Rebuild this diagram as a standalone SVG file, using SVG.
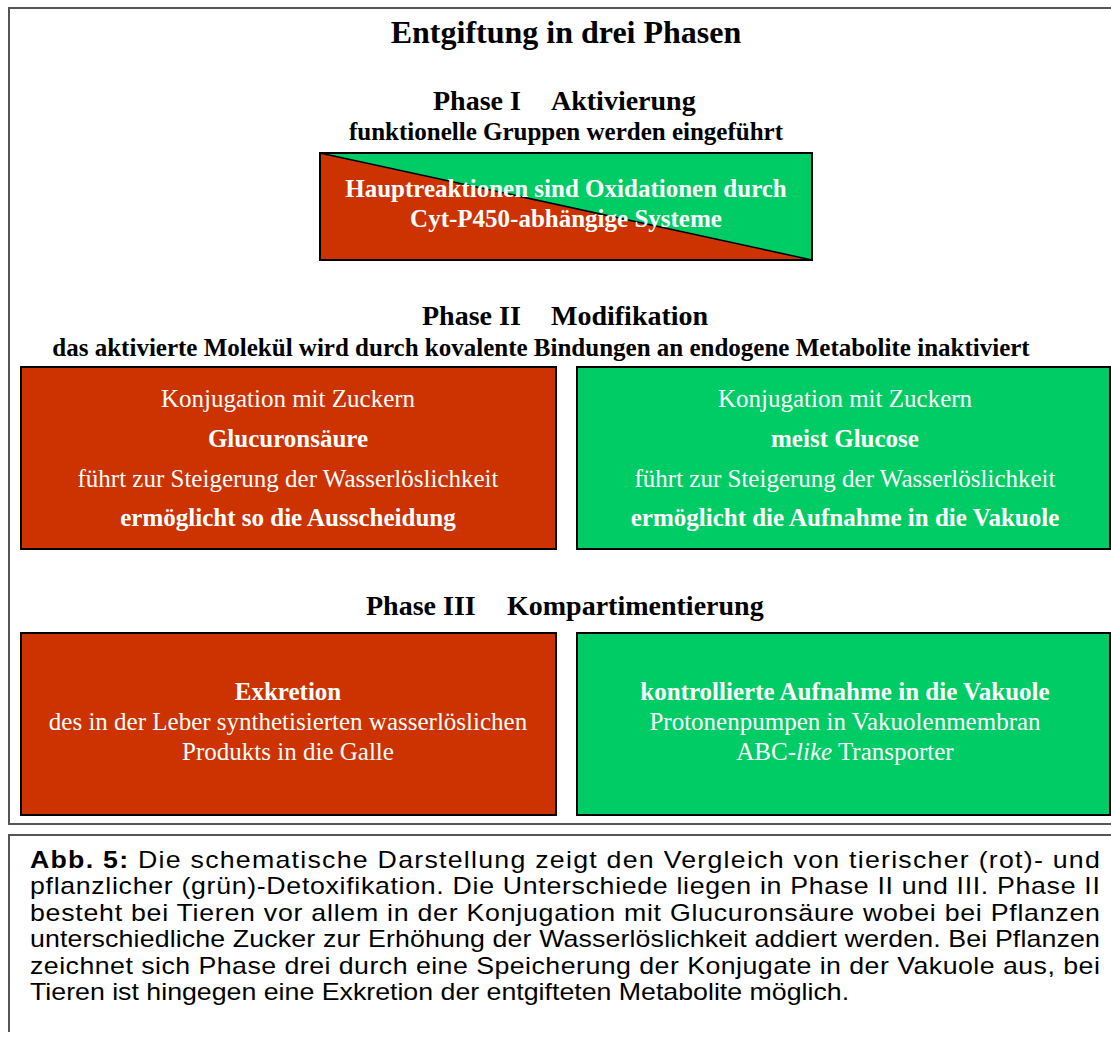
<svg xmlns="http://www.w3.org/2000/svg" width="1111" height="1042" viewBox="0 0 1111 1042">
<style>
.frame{fill:none;stroke:#555;stroke-width:2}
.box{stroke:#000;stroke-width:2}
.red{fill:#CC3300}
.green{fill:#00CC66}
.h{font-family:"Liberation Serif","Times New Roman",serif;font-weight:bold;fill:#000}
.w{font-family:"Liberation Serif","Times New Roman",serif;fill:#fff;font-size:25px;text-anchor:middle}
.b{font-weight:bold}
.cap{font-family:"Liberation Sans",Arial,sans-serif;font-size:23.4px;fill:#000}
</style>
<path class="frame" d="M1113,8 H9 V824 H1113"/>
<path class="frame" d="M1113,835 H9 V1032"/>
<text class="h" x="566" y="43" font-size="32" text-anchor="middle">Entgiftung in drei Phasen</text>
<g id="phase1-header">
<text class="h" x="433" y="110" font-size="28">Phase I</text>
<text class="h" x="551" y="110" font-size="28">Aktivierung</text>
<text class="h" x="566" y="140" font-size="25" text-anchor="middle">funktionelle Gruppen werden eingeführt</text>
</g>
<g id="phase1-box">
<rect x="320" y="153" width="492" height="107" class="green"/>
<polygon points="320,153 812,260 320,260" class="red"/>
<line x1="320" y1="153" x2="812" y2="260" stroke="#000" stroke-width="1.5"/>
<rect x="320" y="153" width="492" height="107" fill="none" class="box"/>
<text class="w b" x="566" y="197">Hauptreaktionen sind Oxidationen durch</text>
<text class="w b" x="566" y="227">Cyt-P450-abhängige Systeme</text>
</g>
<g id="phase2-header">
<text class="h" x="422" y="325" font-size="28">Phase II</text>
<text class="h" x="551" y="325" font-size="28">Modifikation</text>
<text class="h" x="541" y="356" font-size="25" text-anchor="middle">das aktivierte Molekül wird durch kovalente Bindungen an endogene Metabolite inaktiviert</text>
</g>
<g id="phase2-animal">
<rect x="21" y="367" width="535" height="182" class="box red"/>
<text class="w" x="288" y="407">Konjugation mit Zuckern</text>
<text class="w b" x="288" y="447">Glucuronsäure</text>
<text class="w" x="288" y="487">führt zur Steigerung der Wasserlöslichkeit</text>
<text class="w b" x="288" y="526">ermöglicht so die Ausscheidung</text>
</g>
<g id="phase2-plant">
<rect x="577" y="367" width="533" height="182" class="box green"/>
<text class="w" x="845" y="407">Konjugation mit Zuckern</text>
<text class="w b" x="845" y="447">meist Glucose</text>
<text class="w" x="845" y="487">führt zur Steigerung der Wasserlöslichkeit</text>
<text class="w b" x="845" y="526">ermöglicht die Aufnahme in die Vakuole</text>
</g>
<g id="phase3-header">
<text class="h" x="366" y="615" font-size="28">Phase III</text>
<text class="h" x="507" y="615" font-size="28">Kompartimentierung</text>
</g>
<g id="phase3-animal">
<rect x="21" y="633" width="535" height="182" class="box red"/>
<text class="w b" x="288" y="700">Exkretion</text>
<text class="w" x="288" y="730">des in der Leber synthetisierten wasserlöslichen</text>
<text class="w" x="288" y="760">Produkts in die Galle</text>
</g>
<g id="phase3-plant">
<rect x="577" y="633" width="533" height="182" class="box green"/>
<text class="w b" x="845" y="700">kontrollierte Aufnahme in die Vakuole</text>
<text class="w" x="845" y="730">Protonenpumpen in Vakuolenmembran</text>
<text class="w" x="845" y="760">ABC-<tspan font-style="italic">like</tspan> Transporter</text>
</g>
<g id="connectors"></g>
<g id="caption" transform="translate(30,0) scale(1.143,1)">
<text class="cap" x="0" y="868" textLength="936" lengthAdjust="spacing"><tspan font-weight="bold">Abb. 5:</tspan> Die schematische Darstellung zeigt den Vergleich von tierischer (rot)- und</text>
<text class="cap" x="0" y="894.5" textLength="936" lengthAdjust="spacing">pflanzlicher (grün)-Detoxifikation. Die Unterschiede liegen in Phase II und III. Phase II</text>
<text class="cap" x="0" y="921" textLength="936" lengthAdjust="spacing">besteht bei Tieren vor allem in der Konjugation mit Glucuronsäure wobei bei Pflanzen</text>
<text class="cap" x="0" y="947.5" textLength="936" lengthAdjust="spacing">unterschiedliche Zucker zur Erhöhung der Wasserlöslichkeit addiert werden. Bei Pflanzen</text>
<text class="cap" x="0" y="974" textLength="936" lengthAdjust="spacing">zeichnet sich Phase drei durch eine Speicherung der Konjugate in der Vakuole aus, bei</text>
<text class="cap" x="0" y="1000.5">Tieren ist hingegen eine Exkretion der entgifteten Metabolite möglich.</text>
</g>
</svg>
